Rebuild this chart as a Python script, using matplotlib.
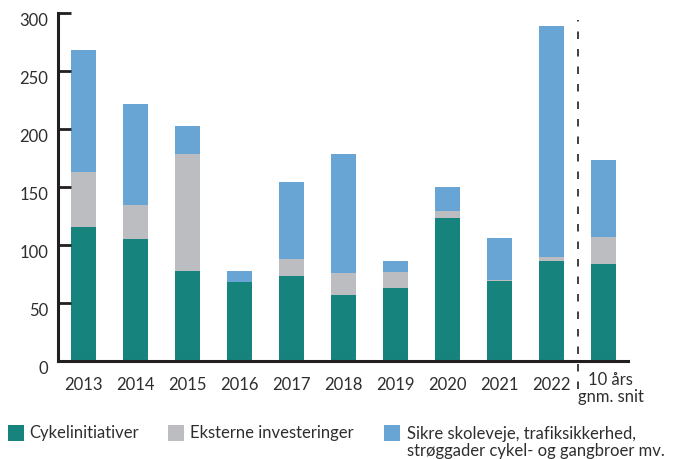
import numpy as np
import matplotlib.pyplot as plt
from matplotlib.patches import Rectangle
from matplotlib.transforms import ScaledTranslation

plt.rcParams['font.family'] = ['Lato', 'DejaVu Sans']

years = ['2013', '2014', '2015', '2016', '2017', '2018', '2019', '2020', '2021', '2022']
avg_label = '10 års\ngnm. snit'

cykel = [115.6, 105.2, 77.7, 68.2, 73.4, 57.1, 63.1, 123.3, 69.1, 86.3, 83.7]
eksterne = [47.3, 29.3, 100.7, 0.0, 14.6, 18.9, 13.8, 6.1, 0.9, 3.5, 23.3]
sikre = [105.0, 86.9, 24.1, 9.5, 66.3, 102.4, 9.4, 20.7, 36.1, 198.8, 66.3]

names = ['Cykelinitiativer', 'Eksterne investeringer',
         'Sikre skoleveje, trafiksikkerhed,\nstrøggader cykel- og gangbroer mv.']
colors = ['#16837d', '#bcbdc0', '#68a5d5']
ink = '#231f20'
txt = '#2e2e2e'
fs = 12

W, H = 696, 460
fig = plt.figure(figsize=(W / 100, H / 100), dpi=100)
ax = fig.add_axes([58 / W, 97.7 / H, 570 / W, 348.6 / H])

x = np.arange(len(cykel))
bottom = np.zeros(len(cykel))
for vals, c in zip([cykel, eksterne, sikre], colors):
    ax.bar(x, vals, 0.48, bottom=bottom, color=c, linewidth=0)
    bottom += np.array(vals)

ax.set_xlim(-0.49, 10.47)
ax.set_ylim(0, 300)

for s in ['top', 'right']:
    ax.spines[s].set_visible(False)
for s in ['left', 'bottom']:
    ax.spines[s].set_linewidth(2.2)
    ax.spines[s].set_color(ink)

ax.set_yticks(range(0, 301, 50))
ax.tick_params(axis='y', direction='in', length=9.5, width=2, color=ink,
               pad=7, labelsize=fs, labelcolor=txt)
for lab in ax.get_yticklabels():
    lab.set_transform(lab.get_transform() + ScaledTranslation(0, -4 / 72, fig.dpi_scale_trans))

ax.set_xticks(x[:len(years)])
ax.set_xticklabels(years)
ax.tick_params(axis='x', length=0, pad=10.5, labelsize=fs, labelcolor=txt)

# label for the average bar, sits a little right of the bar centre
ax.annotate(avg_label, xy=(10.14, 0), xycoords='data', xytext=(0, -7),
            textcoords='offset points', ha='center', va='top',
            fontsize=fs, color=txt, linespacing=1.1)

# dashed separator between the years and the average
ax.plot([9.5, 9.5], [-24, 294], color=ink, lw=1.2,
        linestyle=(0, (4.5, 6)), clip_on=False)

# legend row
sq = 16
for (lx, tx), name, c in zip([(8, 29), (168, 190), (384, 407)], names, colors):
    fig.patches.append(Rectangle((lx / W, (H - 442) / H), sq / W, sq / H,
                                 transform=fig.transFigure, color=c, lw=0))
    ty = 433 if '\n' not in name else 442.5
    fig.text(tx / W, (H - ty) / H, name, ha='left', va='center',
             fontsize=fs, color=txt, linespacing=1.15)

fig.savefig('out.png', dpi=100)
